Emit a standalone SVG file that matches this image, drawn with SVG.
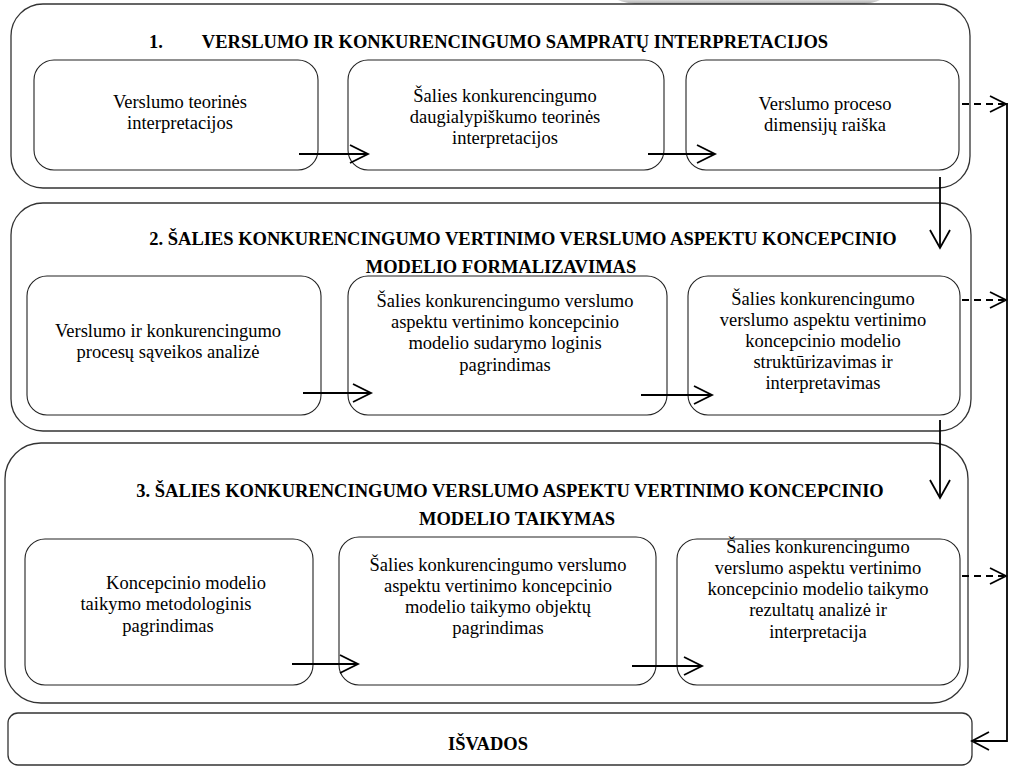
<svg xmlns="http://www.w3.org/2000/svg" width="1013" height="767" viewBox="0 0 1013 767">
<defs>
<style>
.outer{fill:#fff;stroke:#333;stroke-width:1.3}
.inner{fill:#fff;stroke:#222;stroke-width:1.1}
.t{font-family:"Liberation Serif","Times New Roman",serif;font-size:18.5px;fill:#000;text-anchor:middle}
.h{font-family:"Liberation Serif","Times New Roman",serif;font-size:18.5px;font-weight:bold;fill:#000;text-anchor:middle}
.c{fill:none;stroke:#000;stroke-width:1.8}
.d{fill:none;stroke:#000;stroke-width:1.8;stroke-dasharray:7 5}
.ah{fill:none;stroke:#000;stroke-width:1.8;stroke-linejoin:miter}
</style>
<linearGradient id="g" x1="0" y1="0" x2="0" y2="1">
<stop offset="0" stop-color="#d9d9d9"/>
<stop offset="1" stop-color="#7a7a7a"/>
</linearGradient>
</defs>
<rect width="1013" height="767" fill="#fff"/>
<path d="M618 0 L880 0 Q868 6 820 7.5 L680 7.5 Q632 6 618 0 Z" fill="url(#g)"/>

<g id="stage1">
<rect class="outer" x="11" y="4" width="959" height="184" rx="32"/>
<text class="h" x="156" y="48">1.</text>
<text class="h" x="515" y="48">VERSLUMO IR KONKURENCINGUMO SAMPRATŲ INTERPRETACIJOS</text>
</g>
<g id="n1a"><rect class="inner" x="34" y="60" width="284" height="110" rx="20"/>
<text class="t" x="180" y="108">Verslumo teorinės</text><text class="t" x="180" y="129">interpretacijos</text></g>
<g id="n1b"><rect class="inner" x="348" y="60" width="316" height="110" rx="20"/>
<text class="t" x="505" y="102">Šalies konkurencingumo</text><text class="t" x="505" y="123">daugialypiškumo teorinės</text><text class="t" x="505" y="144">interpretacijos</text></g>
<g id="n1c"><rect class="inner" x="686" y="60" width="273" height="110" rx="20"/>
<text class="t" x="825" y="110">Verslumo proceso</text><text class="t" x="825" y="131">dimensijų raiška</text></g>

<g id="stage2">
<rect class="outer" x="11" y="203" width="960" height="228" rx="32"/>
<text class="h" x="523" y="245">2. ŠALIES KONKURENCINGUMO VERTINIMO VERSLUMO ASPEKTU KONCEPCINIO</text>
<text class="h" x="501" y="273">MODELIO FORMALIZAVIMAS</text>
</g>
<g id="n2a"><rect class="inner" x="27" y="276" width="294" height="139" rx="20"/>
<text class="t" x="168" y="337">Verslumo ir konkurencingumo</text><text class="t" x="168" y="358">procesų sąveikos analizė</text></g>
<g id="n2b"><rect class="inner" x="348" y="276" width="319" height="139" rx="20"/>
<text class="t" x="505" y="307">Šalies konkurencingumo verslumo</text><text class="t" x="505" y="328">aspektu vertinimo koncepcinio</text><text class="t" x="505" y="349">modelio sudarymo loginis</text><text class="t" x="505" y="371">pagrindimas</text></g>
<g id="n2c"><rect class="inner" x="688" y="276" width="272" height="139" rx="20"/>
<text class="t" x="823" y="305">Šalies konkurencingumo</text><text class="t" x="823" y="326">verslumo aspektu vertinimo</text><text class="t" x="823" y="347">koncepcinio modelio</text><text class="t" x="823" y="368">struktūrizavimas ir</text><text class="t" x="823" y="389">interpretavimas</text></g>

<g id="stage3">
<rect class="outer" x="5" y="443" width="963" height="260" rx="36"/>
<text class="h" x="510" y="497">3. ŠALIES KONKURENCINGUMO VERSLUMO ASPEKTU VERTINIMO KONCEPCINIO</text>
<text class="h" x="517" y="525">MODELIO TAIKYMAS</text>
</g>
<g id="n3a"><rect class="inner" x="25" y="539" width="288" height="146" rx="20"/>
<text class="t" x="186" y="589">Koncepcinio modelio</text><text class="t" x="166" y="610">taikymo metodologinis</text><text class="t" x="168" y="632">pagrindimas</text></g>
<g id="n3b"><rect class="inner" x="339" y="537" width="317" height="148" rx="20"/>
<text class="t" x="498" y="571">Šalies konkurencingumo verslumo</text><text class="t" x="498" y="592">aspektu vertinimo koncepcinio</text><text class="t" x="498" y="613">modelio taikymo objektų</text><text class="t" x="498" y="634">pagrindimas</text></g>
<g id="n3c"><rect class="inner" x="677" y="539" width="283" height="146" rx="20"/>
<text class="t" x="818" y="553">Šalies konkurencingumo</text><text class="t" x="818" y="574">verslumo aspektu vertinimo</text><text class="t" x="818" y="595">koncepcinio modelio taikymo</text><text class="t" x="818" y="616">rezultatų analizė ir</text><text class="t" x="818" y="638">interpretacija</text></g>

<g id="conclusions">
<rect class="outer" x="8" y="713" width="964" height="52" rx="10"/>
<text class="h" x="488" y="750">IŠVADOS</text>
</g>

<g id="connectors">
<line class="c" x1="299" y1="154" x2="367" y2="154"/><polyline class="ah" points="350,145 368,154 350,163"/>
<line class="c" x1="648" y1="154" x2="714" y2="154"/><polyline class="ah" points="697,145 715,154 697,163"/>
<line class="c" x1="303" y1="393" x2="370" y2="393"/><polyline class="ah" points="353,384 371,393 353,402"/>
<line class="c" x1="641" y1="395" x2="711" y2="395"/><polyline class="ah" points="694,386 712,395 694,404"/>
<line class="c" x1="292" y1="664" x2="357" y2="664"/><polyline class="ah" points="340,655 358,664 340,673"/>
<line class="c" x1="632" y1="666" x2="701" y2="666"/><polyline class="ah" points="684,657 702,666 684,675"/>
<line class="c" x1="940" y1="177" x2="940" y2="247"/><polyline class="ah" points="930,230 940,248 950,230"/>
<line class="c" x1="940" y1="420" x2="940" y2="497"/><polyline class="ah" points="930,480 940,498 950,480"/>
<line class="d" x1="962" y1="104" x2="1004" y2="104"/><polyline class="ah" points="990,96 1006,104 990,112"/>
<line class="d" x1="962" y1="300" x2="1004" y2="300"/><polyline class="ah" points="990,292 1006,300 990,308"/>
<line class="d" x1="962" y1="576" x2="1004" y2="576"/><polyline class="ah" points="990,568 1006,576 990,584"/>
<line class="c" x1="1007" y1="103" x2="1007" y2="742"/>
<line class="c" x1="1007" y1="741" x2="974" y2="741"/><polyline class="ah" points="989,732 972,741 989,750"/>
</g>
</svg>
